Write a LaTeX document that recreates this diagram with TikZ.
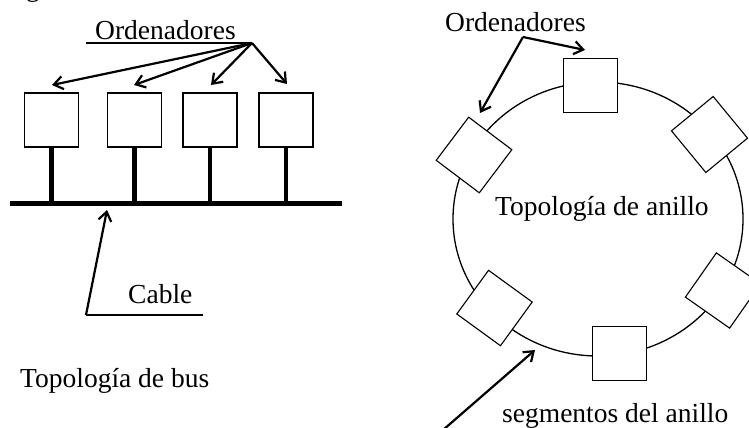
\documentclass[tikz,border=0pt]{standalone}
\usepackage{fontspec}
\setmainfont{Liberation Serif}
\usetikzlibrary{arrows.meta,shapes.geometric}
\begin{document}
\begin{tikzpicture}[x=1pt,y=-1pt,
  lbl/.style={font=\fontsize{27.5}{33}\selectfont, inner sep=0pt, anchor=base west},
  pc/.style={draw, fill=white, line width=1.1pt, minimum size=54pt, inner sep=0pt},
  arr/.style={line width=2.2pt, -{Straight Barb[length=9pt,width=13pt,line width=2.2pt]}},
  thinline/.style={line width=1.3pt},
  stem/.style={line width=4.5pt},
  busline/.style={line width=5pt}]
\useasboundingbox (0,0) rectangle (749,428);
% cropped text at top
\node[lbl] (gtop) at (26,-3) {g};
% ---------------- bus topology ----------------
\node[pc] (b1) at (51.5,120) {};
\node[pc] (b2) at (134.5,120) {};
\node[pc] (b3) at (210,120) {};
\node[pc] (b4) at (286,120) {};
\coordinate (busL) at (10,203);
\coordinate (busR) at (342,203);
\draw[busline] (busL) -- (busR);
\foreach \b in {b1,b2,b3,b4}{
  \draw[stem] (\b.south) -- (\b.south |- busL);
}
\node[lbl] (ordL) at (95,40) {Ordenadores};
\coordinate (ulA) at (86,43);
\coordinate (ulB) at (252,43);
\draw[thinline] (ulA) -- (ulB);
\coordinate (t1) at (52,85);
\coordinate (t2) at (134,85);
\coordinate (t3) at (211,85);
\coordinate (t4) at (287,84);
\foreach \t in {t1,t2,t3,t4}{
  \draw[arr] (ulB) -- (\t);
}
\node[lbl] (cable) at (128,303) {Cable};
\coordinate (cabTail) at (86,315);
\coordinate (cabTip) at (107,210);
\coordinate (cabEnd) at (203,315);
\draw[thinline] (cabTail) -- (cabEnd);
\draw[arr] (cabTail) -- (cabTip);
\node[lbl] (busT) at (20,387) {Topología de bus};
% ---------------- ring topology ----------------
\node[draw, ellipse, line width=1.3pt, minimum width=290pt, minimum height=274pt, inner sep=0pt] (ring) at (598,219) {};
\node[pc] (r1) at (590.5,85.5) {};
\node[pc] (r2) at (619.5,353.5) {};
\node[pc, rotate=53] (r3) at (474,155) {};
\node[pc, rotate=39.5] (r4) at (709.5,134.5) {};
\node[pc, rotate=54] (r5) at (494.5,308) {};
\node[pc, rotate=55] (r6) at (723,290.5) {};
\node[lbl] (ordR) at (445,32) {Ordenadores};
\coordinate (oR) at (523,37);
\coordinate (u1) at (585,50);
\coordinate (u2) at (480,113);
\draw[arr] (oR) -- (u1);
\draw[arr] (oR) -- (u2);
\node[lbl] (anillo) at (495,215) {Topología de anillo};
\node[lbl] (seg) at (502,422) {segmentos del anillo};
\coordinate (segTail) at (443,430);
\coordinate (segTip) at (535,350);
\draw[arr] (segTail) -- (segTip);
\end{tikzpicture}
\end{document}
